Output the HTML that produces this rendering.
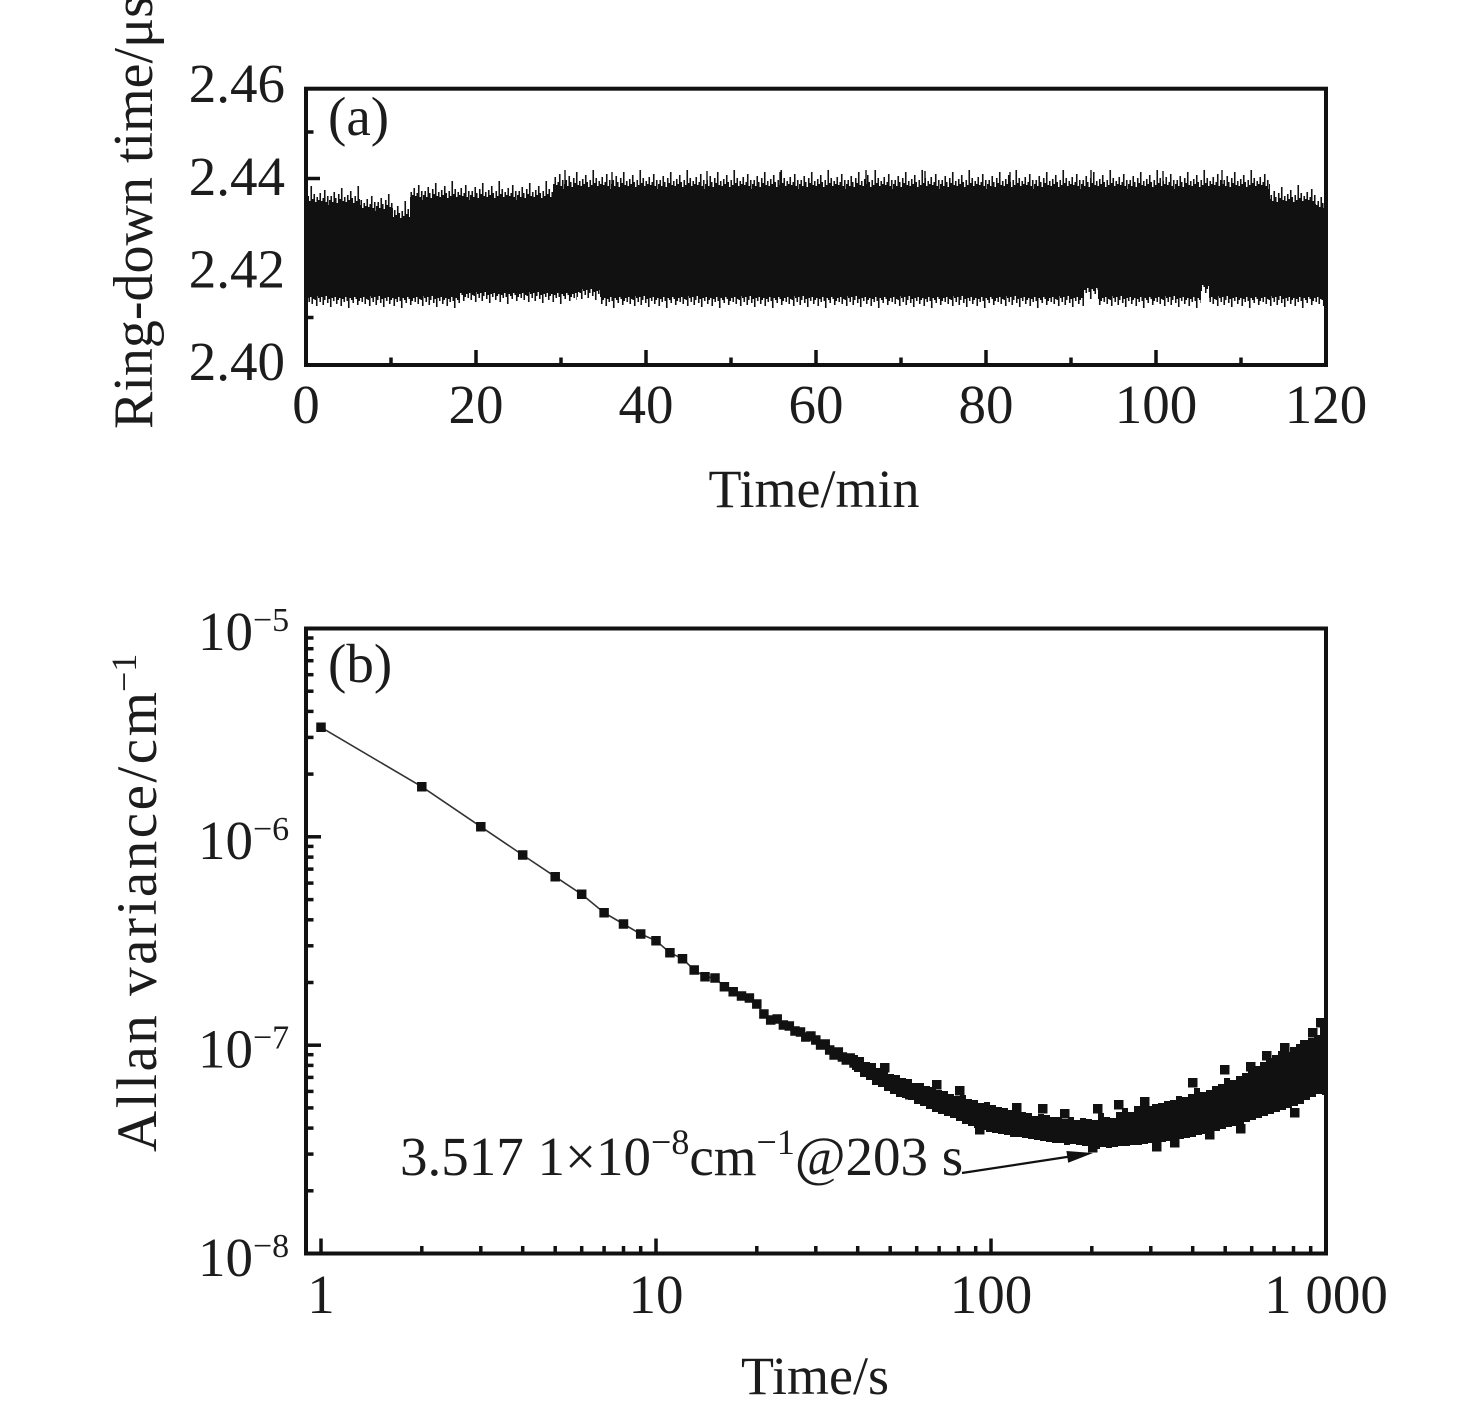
<!DOCTYPE html>
<html><head><meta charset="utf-8">
<style>
html,body{margin:0;padding:0;background:#fff;}
svg{display:block;}
text{font-family:"Liberation Serif","Times New Roman",serif;fill:#1c1c1c;}
</style></head><body>
<svg xmlns="http://www.w3.org/2000/svg" width="1476" height="1414" viewBox="0 0 1476 1414">
<rect width="1476" height="1414" fill="#fff"/>
<defs>
<pattern id="pt" patternUnits="userSpaceOnUse" x="0" y="0" width="47" height="22">
<path d="M0.75,22v-6M2.25,22v-10M3.75,22v-4M5.25,22v-14M6.75,22v-8M8.25,22v-3M9.75,22v-12M11.25,22v-7M12.75,22v-18M14.25,22v-5M15.75,22v-9M17.25,22v-4M18.75,22v-11M20.25,22v-6M21.75,22v-15M23.25,22v-8M24.75,22v-3M26.25,22v-10M27.75,22v-5M29.25,22v-20M30.75,22v-7M32.25,22v-12M33.75,22v-4M35.25,22v-9M36.75,22v-6M38.25,22v-13M39.75,22v-5M41.25,22v-8M42.75,22v-16M44.25,22v-4M45.75,22v-10" stroke="#111" stroke-width="1.6" fill="none"/>
</pattern>
<pattern id="pb" patternUnits="userSpaceOnUse" x="0" y="0" width="53" height="14">
<path d="M0.75,0v3M2.25,0v7M3.75,0v2M5.25,0v10M6.75,0v5M8.25,0v1M9.75,0v8M11.25,0v4M12.75,0v12M14.25,0v3M15.75,0v6M17.25,0v2M18.75,0v9M20.25,0v5M21.75,0v3M23.25,0v11M24.75,0v4M26.25,0v7M27.75,0v2M29.25,0v6M30.75,0v13M32.25,0v3M33.75,0v5M35.25,0v8M36.75,0v2M38.25,0v4M39.75,0v10M41.25,0v6M42.75,0v3M44.25,0v7M45.75,0v2M47.25,0v9M48.75,0v4M50.25,0v5M51.75,0v11" stroke="#111" stroke-width="1.6" fill="none"/>
</pattern>
<clipPath id="ca"><rect x="306" y="89" width="1020" height="276"/></clipPath>
<clipPath id="cb"><rect x="306" y="628.5" width="1021" height="625"/></clipPath>
</defs>

<!-- Panel (a) data -->
<g clip-path="url(#ca)">
<path d="M307,205 H360 V211 H393 V220 H410 V200 H553 V189 H1270 V204 H1316 V210 H1325 V296 H1209 V284 H1201 V296 H1098 V287 H1084 V296 H600 V289 H577 V292 H460 V296 H307 Z" fill="#111"/>
<g transform="translate(0,206)"><rect x="307" y="-22" width="53" height="22" fill="url(#pt)"/></g>
<g transform="translate(0,212)"><rect x="360" y="-22" width="33" height="22" fill="url(#pt)"/></g>
<g transform="translate(0,221)"><rect x="393" y="-22" width="17" height="22" fill="url(#pt)"/></g>
<g transform="translate(0,201)"><rect x="410" y="-22" width="143" height="22" fill="url(#pt)"/></g>
<g transform="translate(0,190)"><rect x="553" y="-22" width="717" height="22" fill="url(#pt)"/></g>
<g transform="translate(0,205)"><rect x="1270" y="-22" width="46" height="22" fill="url(#pt)"/></g>
<g transform="translate(0,211)"><rect x="1316" y="-22" width="9" height="22" fill="url(#pt)"/></g>
<g transform="translate(0,295)"><rect x="307" y="0" width="153" height="14" fill="url(#pb)"/></g>
<g transform="translate(0,291)"><rect x="460" y="0" width="117" height="14" fill="url(#pb)"/></g>
<g transform="translate(0,288)"><rect x="577" y="0" width="23" height="14" fill="url(#pb)"/></g>
<g transform="translate(0,295)"><rect x="600" y="0" width="484" height="14" fill="url(#pb)"/></g>
<g transform="translate(0,286)"><rect x="1084" y="0" width="14" height="14" fill="url(#pb)"/></g>
<g transform="translate(0,295)"><rect x="1098" y="0" width="103" height="14" fill="url(#pb)"/></g>
<g transform="translate(0,283)"><rect x="1201" y="0" width="8" height="14" fill="url(#pb)"/></g>
<g transform="translate(0,295)"><rect x="1209" y="0" width="116" height="14" fill="url(#pb)"/></g>
<path d="M565,190v-20M612,190v-18M707,190v-19M780,190v-18M866,190v-20M925,190v-19M1010,190v-18M1091,190v-20M1163,190v-19M1222,190v-20" stroke="#111" stroke-width="1.4"/>
</g>

<!-- Panel (b) data -->
<g clip-path="url(#cb)">
<path d="M321,727.3 L421.8,786.7 L480.8,826.7 L522.7,855 L555.2,876.7 L581.7,894.3 L604.1,912.7 L623.5,924 L640.7,934 L656,940.7 L669.9,952.7 L682.5,958.7 L694.2,970 L705,976.7 L715,978 L724.4,986.7 L733.2,991.7 L741.5,996 L749.4,998 L756.8,1004 L763.9,1014 L770.7,1020 L777.2,1019 L783.4,1025 L789.3,1026 L795,1031 L800.5,1032 L805.8,1037 L810.9,1036 L815.8,1040 L820.6,1045 L825.2,1044 L829.7,1050 L834.1,1055 L838.3,1052 L842.4,1057 L846.3,1060 L850.2,1058 L854,1063 L857.7,1062" fill="none" stroke="#333" stroke-width="1.6"/>
<path fill="#111" d="M316.25,722.55h9.5v9.5h-9.5z M417.05,781.95h9.5v9.5h-9.5z M476.05,821.95h9.5v9.5h-9.5z M517.95,850.25h9.5v9.5h-9.5z M550.45,871.95h9.5v9.5h-9.5z M576.95,889.55h9.5v9.5h-9.5z M599.35,907.95h9.5v9.5h-9.5z M618.75,919.25h9.5v9.5h-9.5z M635.95,929.25h9.5v9.5h-9.5z M651.25,935.95h9.5v9.5h-9.5z M665.15,947.95h9.5v9.5h-9.5z M677.75,953.95h9.5v9.5h-9.5z M689.45,965.25h9.5v9.5h-9.5z M700.25,971.95h9.5v9.5h-9.5z M710.25,973.25h9.5v9.5h-9.5z M719.65,981.95h9.5v9.5h-9.5z M728.45,986.95h9.5v9.5h-9.5z M736.75,991.25h9.5v9.5h-9.5z M744.65,993.25h9.5v9.5h-9.5z M752.05,999.25h9.5v9.5h-9.5z M759.15,1009.25h9.5v9.5h-9.5z M765.95,1015.25h9.5v9.5h-9.5z M772.45,1014.25h9.5v9.5h-9.5z M778.65,1020.25h9.5v9.5h-9.5z M784.55,1021.25h9.5v9.5h-9.5z M790.25,1026.25h9.5v9.5h-9.5z M795.75,1027.25h9.5v9.5h-9.5z M801.05,1032.25h9.5v9.5h-9.5z M806.15,1031.25h9.5v9.5h-9.5z M811.05,1035.25h9.5v9.5h-9.5z M815.85,1040.25h9.5v9.5h-9.5z M820.45,1039.25h9.5v9.5h-9.5z M824.95,1045.25h9.5v9.5h-9.5z M829.35,1050.25h9.5v9.5h-9.5z M833.55,1047.25h9.5v9.5h-9.5z M837.65,1052.25h9.5v9.5h-9.5z M841.55,1055.25h9.5v9.5h-9.5z M845.45,1053.25h9.5v9.5h-9.5z M849.25,1058.25h9.5v9.5h-9.5z M852.95,1057.25h9.5v9.5h-9.5z
M955,1086h9.5v9.5h-9.5z M1038,1104h9.5v9.5h-9.5z M1093,1104h9.5v9.5h-9.5z M1114,1100h9.5v9.5h-9.5z M1188,1078h9.5v9.5h-9.5z M1220,1065h9.5v9.5h-9.5z M1262,1051h9.5v9.5h-9.5z M1088,1143h9.5v9.5h-9.5z M1236,1124h9.5v9.5h-9.5z M1170,1138h9.5v9.5h-9.5z M1300,1040h9.5v9.5h-9.5z M1316,1018h9.5v9.5h-9.5z
M880,1063h9.5v9.5h-9.5z M905,1090h9.5v9.5h-9.5z M932,1080h9.5v9.5h-9.5z M975,1125h9.5v9.5h-9.5z M1012,1103h9.5v9.5h-9.5z M1060,1109h9.5v9.5h-9.5z M1140,1097h9.5v9.5h-9.5z M1152,1142h9.5v9.5h-9.5z M1205,1130h9.5v9.5h-9.5z M1246,1062h9.5v9.5h-9.5z M1280,1043h9.5v9.5h-9.5z M1290,1108h9.5v9.5h-9.5z M1308,1028h9.5v9.5h-9.5z M1320,1026h9.5v9.5h-9.5z"/>
<path fill="#111" d="M852,1055 H858 V1057 H864 V1062 H870 V1063 H876 V1068 H882 V1069 H888 V1074 H894 V1075 H900 V1078 H906 V1079 H912 V1083 H918 V1083 H924 V1086 H930 V1087 H936 V1090 H942 V1091 H948 V1094 H954 V1096 H960 V1095 H966 V1099 H972 V1100 H978 V1103 H984 V1102 H990 V1105 H996 V1107 H1002 V1108 H1008 V1110 H1014 V1111 H1020 V1112 H1026 V1113 H1032 V1116 H1038 V1114 H1044 V1115 H1050 V1117 H1056 V1117 H1062 V1119 H1068 V1117 H1074 V1120 H1080 V1118 H1086 V1119 H1092 V1120 H1098 V1113 H1104 V1117 H1110 V1118 H1116 V1112 H1122 V1108 H1128 V1112 H1134 V1106 H1140 V1105 H1146 V1106 H1152 V1104 H1158 V1103 H1164 V1101 H1170 V1100 H1176 V1096 H1182 V1097 H1188 V1094 H1194 V1088 H1200 V1092 H1206 V1090 H1212 V1086 H1218 V1084 H1224 V1078 H1230 V1080 H1236 V1076 H1242 V1073 H1248 V1070 H1254 V1066 H1260 V1062 H1266 V1058 H1272 V1055 H1278 V1051 H1284 V1052 H1290 V1047 H1296 V1044 H1302 V1042 H1308 V1038 H1314 V1035 H1320 V1030 H1324 V1020 H1328 V1095 H1322 V1094 H1316 V1097 H1310 V1100 H1304 V1104 H1298 V1106 H1292 V1108 H1286 V1110 H1280 V1112 H1274 V1114 H1268 V1116 H1262 V1118 H1256 V1120 H1250 V1122 H1244 V1124 H1238 V1126 H1232 V1127 H1226 V1129 H1220 V1131 H1214 V1133 H1208 V1134 H1202 V1135 H1196 V1137 H1190 V1138 H1184 V1139 H1178 V1140 H1172 V1141 H1166 V1142 H1160 V1142 H1154 V1143 H1148 V1144 H1142 V1145 H1136 V1145 H1130 V1146 H1124 V1146 H1118 V1147 H1112 V1148 H1106 V1147 H1100 V1149 H1094 V1150 H1088 V1146 H1082 V1145 H1076 V1144 H1070 V1145 H1064 V1143 H1058 V1143 H1052 V1142 H1046 V1141 H1040 V1140 H1034 V1139 H1028 V1138 H1022 V1137 H1016 V1137 H1010 V1135 H1004 V1134 H998 V1133 H992 V1132 H986 V1130 H980 V1128 H974 V1126 H968 V1124 H962 V1121 H956 V1118 H950 V1116 H944 V1114 H938 V1112 H932 V1109 H926 V1106 H920 V1104 H914 V1100 H908 V1098 H902 V1097 H896 V1094 H890 V1091 H884 V1087 H878 V1085 H872 V1080 H866 V1077 H860 V1072 H854 V1070 H852 Z"/>
</g>

<!-- Panel (a) frame & ticks -->
<g stroke="#111" fill="none">
<rect x="306" y="88.7" width="1020" height="276.3" stroke-width="4"/>
<g stroke-width="3.5">
<line x1="306" y1="178.5" x2="320" y2="178.5"/>
<line x1="306" y1="271.5" x2="320" y2="271.5"/>
<line x1="306" y1="132" x2="313.5" y2="132"/>
<line x1="306" y1="225" x2="313.5" y2="225"/>
<line x1="306" y1="317.5" x2="313.5" y2="317.5"/>
<line x1="476" y1="365" x2="476" y2="350"/>
<line x1="646" y1="365" x2="646" y2="350"/>
<line x1="816" y1="365" x2="816" y2="350"/>
<line x1="986" y1="365" x2="986" y2="350"/>
<line x1="1156" y1="365" x2="1156" y2="350"/>
<line x1="391" y1="365" x2="391" y2="357.5"/>
<line x1="561" y1="365" x2="561" y2="357.5"/>
<line x1="731" y1="365" x2="731" y2="357.5"/>
<line x1="901" y1="365" x2="901" y2="357.5"/>
<line x1="1071" y1="365" x2="1071" y2="357.5"/>
<line x1="1241" y1="365" x2="1241" y2="357.5"/>
</g>
</g>

<!-- Panel (a) text -->
<g font-size="55" text-anchor="end">
<text x="285" y="102">2.46</text>
<text x="285" y="195">2.44</text>
<text x="285" y="287.5">2.42</text>
<text x="285" y="380">2.40</text>
</g>
<g font-size="55" text-anchor="middle">
<text x="306" y="423">0</text>
<text x="476" y="423">20</text>
<text x="646" y="423">40</text>
<text x="816" y="423">60</text>
<text x="986" y="423">80</text>
<text x="1156" y="423">100</text>
<text x="1326" y="423">120</text>
</g>
<text x="814" y="507" font-size="54" text-anchor="middle">Time/min</text>
<text x="328" y="135" font-size="55">(a)</text>
<text transform="translate(152,429) rotate(-90)" font-size="56">Ring-down time/μs</text>

<!-- Panel (b) frame & ticks -->
<g stroke="#111" fill="none">
<rect x="306" y="628.5" width="1020" height="625" stroke-width="4"/>
<g stroke-width="3.5">
<line x1="306" y1="1045.2" x2="321" y2="1045.2"/>
<line x1="306" y1="836.8" x2="321" y2="836.8"/>
<line x1="306" y1="1190.8" x2="313.5" y2="1190.8"/>
<line x1="306" y1="1154.1" x2="313.5" y2="1154.1"/>
<line x1="306" y1="1128.1" x2="313.5" y2="1128.1"/>
<line x1="306" y1="1107.9" x2="313.5" y2="1107.9"/>
<line x1="306" y1="1091.4" x2="313.5" y2="1091.4"/>
<line x1="306" y1="1077.4" x2="313.5" y2="1077.4"/>
<line x1="306" y1="1065.4" x2="313.5" y2="1065.4"/>
<line x1="306" y1="1054.7" x2="313.5" y2="1054.7"/>
<line x1="306" y1="982.5" x2="313.5" y2="982.5"/>
<line x1="306" y1="945.8" x2="313.5" y2="945.8"/>
<line x1="306" y1="919.8" x2="313.5" y2="919.8"/>
<line x1="306" y1="899.6" x2="313.5" y2="899.6"/>
<line x1="306" y1="883.1" x2="313.5" y2="883.1"/>
<line x1="306" y1="869.1" x2="313.5" y2="869.1"/>
<line x1="306" y1="857.1" x2="313.5" y2="857.1"/>
<line x1="306" y1="846.4" x2="313.5" y2="846.4"/>
<line x1="306" y1="774.1" x2="313.5" y2="774.1"/>
<line x1="306" y1="737.4" x2="313.5" y2="737.4"/>
<line x1="306" y1="711.4" x2="313.5" y2="711.4"/>
<line x1="306" y1="691.2" x2="313.5" y2="691.2"/>
<line x1="306" y1="674.7" x2="313.5" y2="674.7"/>
<line x1="306" y1="660.7" x2="313.5" y2="660.7"/>
<line x1="306" y1="648.7" x2="313.5" y2="648.7"/>
<line x1="306" y1="638" x2="313.5" y2="638"/>
<line x1="321" y1="1253.5" x2="321" y2="1238.5"/>
<line x1="656" y1="1253.5" x2="656" y2="1238.5"/>
<line x1="991" y1="1253.5" x2="991" y2="1238.5"/>
<line x1="421.8" y1="1253.5" x2="421.8" y2="1246"/>
<line x1="480.8" y1="1253.5" x2="480.8" y2="1246"/>
<line x1="522.7" y1="1253.5" x2="522.7" y2="1246"/>
<line x1="555.2" y1="1253.5" x2="555.2" y2="1246"/>
<line x1="581.7" y1="1253.5" x2="581.7" y2="1246"/>
<line x1="604.1" y1="1253.5" x2="604.1" y2="1246"/>
<line x1="623.5" y1="1253.5" x2="623.5" y2="1246"/>
<line x1="640.7" y1="1253.5" x2="640.7" y2="1246"/>
<line x1="756.8" y1="1253.5" x2="756.8" y2="1246"/>
<line x1="815.8" y1="1253.5" x2="815.8" y2="1246"/>
<line x1="857.7" y1="1253.5" x2="857.7" y2="1246"/>
<line x1="890.2" y1="1253.5" x2="890.2" y2="1246"/>
<line x1="916.7" y1="1253.5" x2="916.7" y2="1246"/>
<line x1="939.1" y1="1253.5" x2="939.1" y2="1246"/>
<line x1="958.5" y1="1253.5" x2="958.5" y2="1246"/>
<line x1="975.7" y1="1253.5" x2="975.7" y2="1246"/>
<line x1="1091.8" y1="1253.5" x2="1091.8" y2="1246"/>
<line x1="1150.8" y1="1253.5" x2="1150.8" y2="1246"/>
<line x1="1192.7" y1="1253.5" x2="1192.7" y2="1246"/>
<line x1="1225.2" y1="1253.5" x2="1225.2" y2="1246"/>
<line x1="1251.7" y1="1253.5" x2="1251.7" y2="1246"/>
<line x1="1274.1" y1="1253.5" x2="1274.1" y2="1246"/>
<line x1="1293.5" y1="1253.5" x2="1293.5" y2="1246"/>
<line x1="1310.7" y1="1253.5" x2="1310.7" y2="1246"/>
</g>
</g>

<!-- Panel (b) tick labels -->
<g font-size="55" text-anchor="end">
<text x="253" y="650">10</text>
<text x="253" y="859">10</text>
<text x="253" y="1067.5">10</text>
<text x="253" y="1276">10</text>
</g>
<g font-size="34">
<text x="253" y="631">−5</text>
<text x="253" y="840">−6</text>
<text x="253" y="1048.5">−7</text>
<text x="253" y="1257">−8</text>
</g>
<g font-size="55" text-anchor="middle">
<text x="321" y="1313">1</text>
<text x="656" y="1313">10</text>
<text x="991" y="1313">100</text>
<text x="1326" y="1313">1 000</text>
</g>
<text x="815" y="1394" font-size="54" text-anchor="middle">Time/s</text>
<text x="328" y="682" font-size="55">(b)</text>
<text transform="translate(156,1152) rotate(-90)" font-size="57" textLength="460" lengthAdjust="spacing">Allan variance/cm</text>
<text transform="translate(136,692) rotate(-90)" font-size="36">−1</text>

<!-- Annotation -->
<text x="400" y="1175" font-size="55">3.517 1×10<tspan font-size="36" dy="-21">−8</tspan><tspan dy="21">cm</tspan><tspan font-size="36" dy="-21">−1</tspan><tspan dy="21">@203 s</tspan></text>
<line x1="962" y1="1173" x2="1070" y2="1156.5" stroke="#111" stroke-width="2.2"/>
<polygon points="1093,1153 1066.4,1151 1068.2,1162.8" fill="#111"/>
</svg>
</body></html>
